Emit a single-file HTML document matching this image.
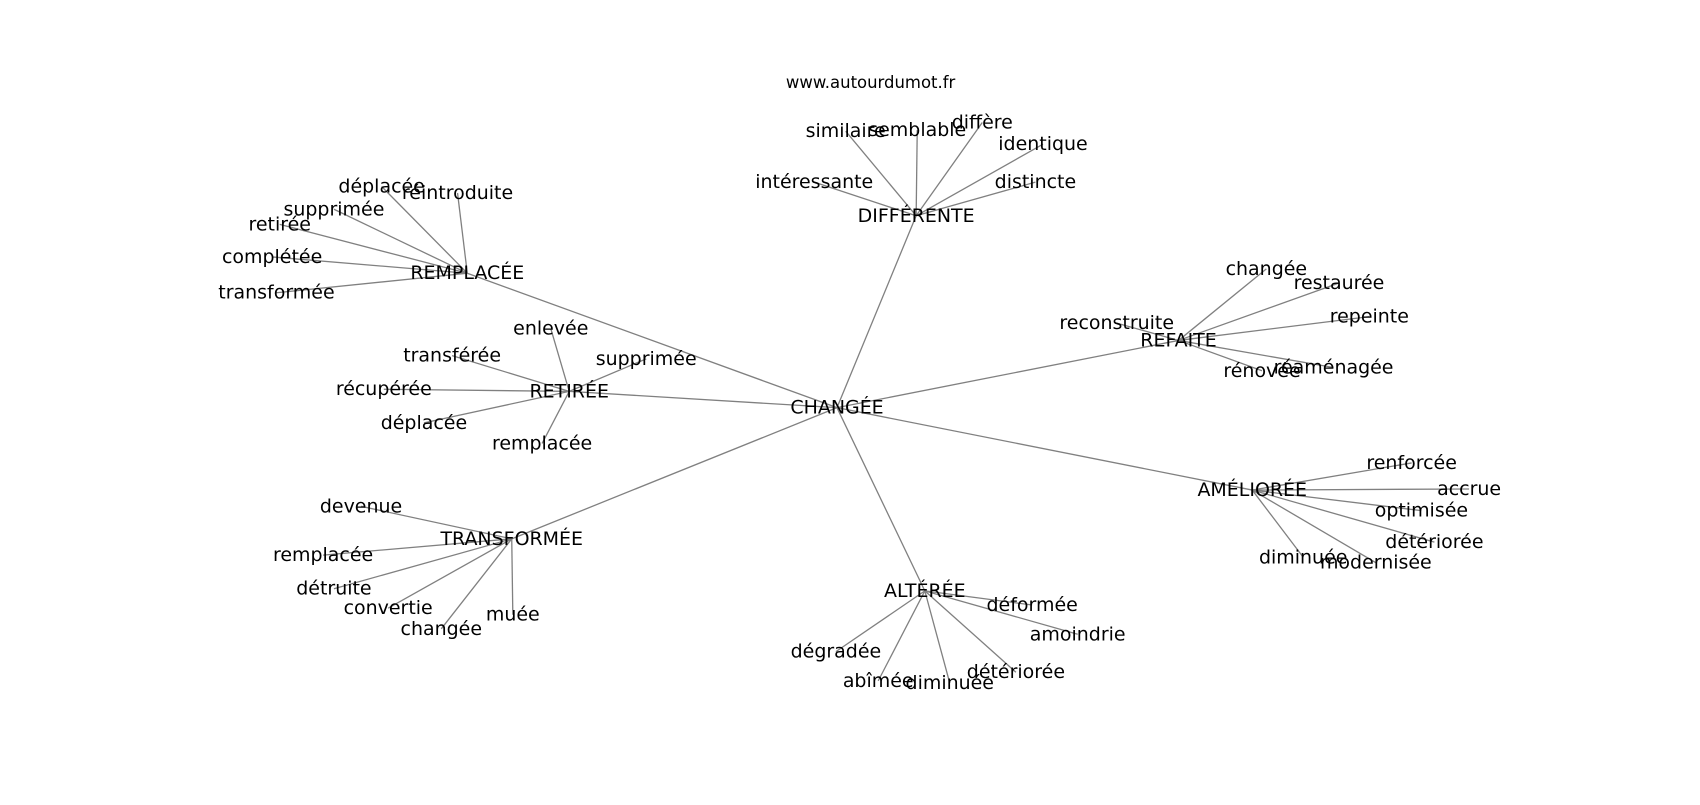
<!DOCTYPE html>
<html><head><meta charset="utf-8"><style>
html,body{margin:0;padding:0;background:#fff;}
svg text{font-family:"DejaVu Sans","Liberation Sans",sans-serif;font-size:17.5px;fill:#000;text-anchor:middle;dominant-baseline:central;}
svg line{stroke:#808080;stroke-width:1.2;}
</style></head><body>
<svg width="1700" height="800" viewBox="0 0 1700 800" xmlns="http://www.w3.org/2000/svg">
<g transform="scale(1.0842)">
<g id="edges">
<line x1="772" y1="376" x2="845" y2="199"/>
<line x1="772" y1="376" x2="431" y2="252"/>
<line x1="772" y1="376" x2="525" y2="361"/>
<line x1="772" y1="376" x2="472" y2="497"/>
<line x1="772" y1="376" x2="853" y2="545"/>
<line x1="772" y1="376" x2="1155" y2="452"/>
<line x1="772" y1="376" x2="1087" y2="314"/>

<line x1="845" y1="199" x2="780" y2="121"/>
<line x1="845" y1="199" x2="846" y2="120"/>
<line x1="845" y1="199" x2="906" y2="113"/>
<line x1="845" y1="199" x2="962" y2="133"/>
<line x1="845" y1="199" x2="955" y2="168"/>
<line x1="845" y1="199" x2="751" y2="168"/>

<line x1="431" y1="252" x2="352" y2="172"/>
<line x1="431" y1="252" x2="422" y2="178"/>
<line x1="431" y1="252" x2="308" y2="193"/>
<line x1="431" y1="252" x2="258" y2="207"/>
<line x1="431" y1="252" x2="251" y2="237"/>
<line x1="431" y1="252" x2="255" y2="270"/>

<line x1="525" y1="361" x2="508" y2="303"/>
<line x1="525" y1="361" x2="596" y2="331"/>
<line x1="525" y1="361" x2="417" y2="328"/>
<line x1="525" y1="361" x2="354" y2="359"/>
<line x1="525" y1="361" x2="391" y2="390"/>
<line x1="525" y1="361" x2="500" y2="409"/>

<line x1="472" y1="497" x2="333" y2="467"/>
<line x1="472" y1="497" x2="298" y2="512"/>
<line x1="472" y1="497" x2="308" y2="543"/>
<line x1="472" y1="497" x2="358" y2="561"/>
<line x1="472" y1="497" x2="407" y2="580"/>
<line x1="472" y1="497" x2="473" y2="567"/>

<line x1="853" y1="545" x2="952" y2="558"/>
<line x1="853" y1="545" x2="994" y2="585"/>
<line x1="853" y1="545" x2="937" y2="620"/>
<line x1="853" y1="545" x2="876" y2="630"/>
<line x1="853" y1="545" x2="810" y2="628"/>
<line x1="853" y1="545" x2="771" y2="601"/>

<line x1="1155" y1="452" x2="1302" y2="427"/>
<line x1="1155" y1="452" x2="1355" y2="451"/>
<line x1="1155" y1="452" x2="1311" y2="471"/>
<line x1="1155" y1="452" x2="1323" y2="500"/>
<line x1="1155" y1="452" x2="1269" y2="519"/>
<line x1="1155" y1="452" x2="1202" y2="514"/>

<line x1="1087" y1="314" x2="1168" y2="248"/>
<line x1="1087" y1="314" x2="1235" y2="261"/>
<line x1="1087" y1="314" x2="1263" y2="292"/>
<line x1="1087" y1="314" x2="1030" y2="298"/>
<line x1="1087" y1="314" x2="1230" y2="339"/>
<line x1="1087" y1="314" x2="1164" y2="342"/>
</g>
<g id="labels">
<text x="803" y="76" style="font-size:15.2px">www.autourdumot.fr</text>
<text x="772" y="376">CHANGÉE</text>
<text x="845" y="199">DIFFÉRENTE</text>
<text x="431" y="252">REMPLACÉE</text>
<text x="525" y="361">RETIRÉE</text>
<text x="472" y="497">TRANSFORMÉE</text>
<text x="853" y="545">ALTÉRÉE</text>
<text x="1155" y="452">AMÉLIORÉE</text>
<text x="1087" y="314">REFAITE</text>

<text x="780" y="121">similaire</text>
<text x="846" y="120">semblable</text>
<text x="906" y="113">diffère</text>
<text x="962" y="133">identique</text>
<text x="955" y="168">distincte</text>
<text x="751" y="168">intéressante</text>

<text x="352" y="172">déplacée</text>
<text x="422" y="178">réintroduite</text>
<text x="308" y="193">supprimée</text>
<text x="258" y="207">retirée</text>
<text x="251" y="237">complétée</text>
<text x="255" y="270">transformée</text>

<text x="508" y="303">enlevée</text>
<text x="596" y="331">supprimée</text>
<text x="417" y="328">transférée</text>
<text x="354" y="359">récupérée</text>
<text x="391" y="390">déplacée</text>
<text x="500" y="409">remplacée</text>

<text x="333" y="467">devenue</text>
<text x="298" y="512">remplacée</text>
<text x="308" y="543">détruite</text>
<text x="358" y="561">convertie</text>
<text x="407" y="580">changée</text>
<text x="473" y="567">muée</text>

<text x="952" y="558">déformée</text>
<text x="994" y="585">amoindrie</text>
<text x="937" y="620">détériorée</text>
<text x="876" y="630">diminuée</text>
<text x="810" y="628">abîmée</text>
<text x="771" y="601">dégradée</text>

<text x="1302" y="427">renforcée</text>
<text x="1355" y="451">accrue</text>
<text x="1311" y="471">optimisée</text>
<text x="1323" y="500">détériorée</text>
<text x="1269" y="519">modernisée</text>
<text x="1202" y="514">diminuée</text>

<text x="1168" y="248">changée</text>
<text x="1235" y="261">restaurée</text>
<text x="1263" y="292">repeinte</text>
<text x="1030" y="298">reconstruite</text>
<text x="1230" y="339">réaménagée</text>
<text x="1164" y="342">rénovée</text>
</g>
</g>
</svg>
</body></html>
